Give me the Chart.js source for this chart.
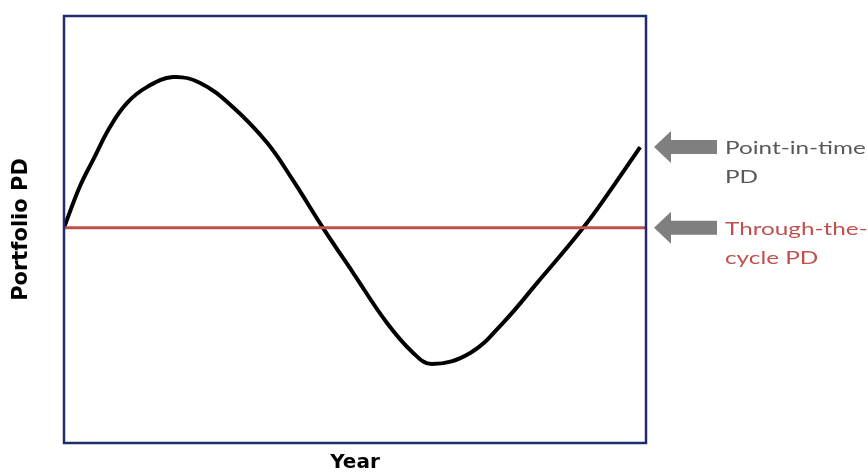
<!DOCTYPE html>
<html>
<head>
  <meta charset="UTF-8">
  <title>Point-in-time vs Through-the-cycle PD</title>
  <script src="https://cdn.jsdelivr.net/npm/chart.js"></script>
  <style>
  body {
    margin: 0;
    background: #ffffff;
  }

  .wrap {
    position: relative;
    width: 868px;
    height: 475px;
  }
</style>
</head>
<body>

  <div class="wrap">
    <canvas id="pdChart"></canvas>
  </div>

  <script>
    // point-in-time PD (year position 0-100, PD 0-100)
    const pitYears = [0, 2.7, 5, 7.9, 10.8, 14.3, 18.7, 23.4, 29, 34.9, 39.3, 44.5, 49.7, 55.5, 60, 63.2, 69.8, 75.4, 81.3, 89.2, 94.3, 99];
    const pitValues = [50.4, 60, 66.3, 74, 79.6, 83.4, 85.7, 84.3, 78.7, 70.3, 61.6, 50.4, 39.8, 28.1, 21.1, 18.5, 21.1, 28.1, 37.5, 50.4, 60, 69.3];

    // through-the-cycle PD is flat
    const ttcYears = [0, 100];
    const ttcValues = [50.4, 50.4];

    const labels = {
      x: "Year",
      y: "Portfolio PD",
      pit: ["Point-in-time", "PD"],
      ttc: ["Through-the-", "cycle PD"]
    };

    const navy = "#1f2b6b";
    const red = "#c0504d";
    const arrowGrey = "#7f7f7f";
    const textGrey = "#595959";
    const noteFont = "Lato, 'Open Sans', sans-serif";
    const titleFont = "'DejaVu Sans', sans-serif";

    const pitPoints = pitYears.map((x, i) => ({ x, y: pitValues[i] }));
    const ttcPoints = ttcYears.map((x, i) => ({ x, y: ttcValues[i] }));

    // frame round the plot area + the arrows with their notes on the right
    const frameAndNotes = {
      id: "frameAndNotes",
      afterDraw(chart) {
        const ctx = chart.ctx;
        const a = chart.chartArea;
        const yScale = chart.scales.y;

        ctx.save();
        ctx.strokeStyle = navy;
        ctx.lineWidth = 2.5;
        ctx.strokeRect(a.left, a.top, a.right - a.left, a.bottom - a.top);

        const notes = [
          { y: yScale.getPixelForValue(pitValues[pitValues.length - 1]), lines: labels.pit, color: textGrey },
          { y: yScale.getPixelForValue(ttcValues[0]), lines: labels.ttc, color: red }
        ];

        for (const n of notes) {
          const tip = a.right + 8;
          const neck = tip + 17;
          const tail = tip + 63;
          ctx.fillStyle = arrowGrey;
          ctx.beginPath();
          ctx.moveTo(tip, n.y);
          ctx.lineTo(neck, n.y - 16);
          ctx.lineTo(neck, n.y - 7);
          ctx.lineTo(tail, n.y - 7);
          ctx.lineTo(tail, n.y + 7);
          ctx.lineTo(neck, n.y + 7);
          ctx.lineTo(neck, n.y + 16);
          ctx.closePath();
          ctx.fill();

          // the source text is drawn a bit wide, so stretch it sideways
          ctx.save();
          ctx.translate(tail + 8, 0);
          ctx.scale(1.35, 1);
          ctx.fillStyle = n.color;
          ctx.font = "18px " + noteFont;
          ctx.textAlign = "left";
          ctx.textBaseline = "middle";
          n.lines.forEach((t, i) => ctx.fillText(t, 0, n.y + 1 + i * 29));
          ctx.restore();
        }
        ctx.restore();
      }
    };

    new Chart(document.getElementById("pdChart"), {
      type: "line",
      data: {
        datasets: [
          {
            label: "Through-the-cycle PD",
            data: ttcPoints,
            borderColor: red,
            borderWidth: 3,
            pointRadius: 0
          },
          {
            label: "Point-in-time PD",
            data: pitPoints,
            borderColor: "#000000",
            borderWidth: 4,
            pointRadius: 0,
            tension: 0.4
          }
        ]
      },
      options: {
        responsive: true,
        maintainAspectRatio: false,
        animation: false,
        layout: { padding: { top: 16, right: 222, left: 0, bottom: 0 } },
        plugins: {
          legend: { display: false },
          tooltip: { enabled: false }
        },
        scales: {
          x: {
            type: "linear",
            min: 0,
            max: 100,
            grid: { display: false },
            border: { display: false },
            ticks: { display: false },
            title: {
              display: true,
              text: labels.x,
              color: "#000000",
              font: { family: titleFont, size: 20, weight: "bold" },
              padding: 0
            },
            afterFit(scale) { scale.height = 32; }
          },
          y: {
            min: 0,
            max: 100,
            grid: { display: false },
            border: { display: false },
            ticks: { display: false },
            title: {
              display: true,
              text: labels.y,
              color: "#000000",
              font: { family: titleFont, size: 21, weight: "bold" },
              padding: { top: 9, bottom: 0 }
            },
            afterFit(scale) { scale.width = 64; }
          }
        }
      },
      plugins: [frameAndNotes]
    });
  </script>

</body>
</html>
